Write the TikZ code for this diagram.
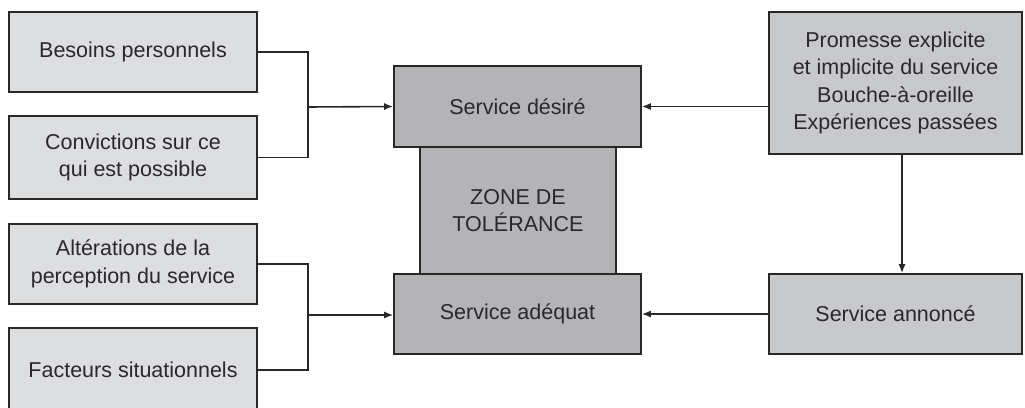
\documentclass[tikz,border=0pt]{standalone}
\usepackage{fontspec}
\setmainfont{Liberation Sans}
\usetikzlibrary{arrows.meta}
\definecolor{lightbox}{RGB}{221,222,223}
\definecolor{midbox}{RGB}{200,201,203}
\definecolor{darkbox}{RGB}{180,180,182}
\definecolor{ink}{RGB}{40,40,40}
\definecolor{txt}{RGB}{40,40,45}
\begin{document}
\begin{tikzpicture}[x=1pt,y=-1pt,
  box/.style={draw=ink, line width=1.6pt, inner sep=0pt, align=center,
    text=txt, font=\fontsize{21.5}{27.5}\selectfont},
  leftbox/.style={box, fill=lightbox, minimum width=248pt},
  centerbox/.style={box, fill=darkbox},
  rightbox/.style={box, fill=midbox, minimum width=253pt},
  link/.style={draw=ink, line width=1.6pt},
  arrow/.style={link, -{Latex[length=9pt,width=7pt]}}]
\useasboundingbox (0,0) rectangle (1025,407);

% left column
\node[leftbox, minimum height=80pt] (b1) at (133,52) {Besoins personnels};
\node[leftbox, minimum height=83pt] (b2) at (133,157.5) {Convictions sur ce\\qui est possible};
\node[leftbox, minimum height=80pt] (b3) at (133,264) {Altérations de la\\perception du service};
\node[leftbox, minimum height=84pt] (b4) at (133,370) {Facteurs situationnels};

% central column
\node[centerbox, minimum width=196pt, minimum height=127pt] (zone) at (518,210.5) {ZONE DE\\TOLÉRANCE};
\node[centerbox, minimum width=247pt, minimum height=81pt] (desire) at (517.5,106.5) {Service désiré};
\node[centerbox, minimum width=247pt, minimum height=80pt] (adequat) at (517.5,314) {Service adéquat};

% right column
\node[rightbox, minimum height=142pt] (prom) at (895.5,83) {Promesse explicite\\et implicite du service\\Bouche-à-oreille\\Expériences passées};
\node[rightbox, minimum height=80pt] (ann) at (895.5,314) {Service annoncé};

% junction points
\coordinate (j1) at (308,107);
\coordinate (j2) at (308,315);

% connectors
\draw[link] (b1.east) -| (j1) |- (b2.east);
\draw[arrow] (j1) -- (desire.west);
\draw[link] (b3.east) -| (j2) |- (b4.east);
\draw[arrow] (j2) -- (j2 -| adequat.west);
\draw[arrow] (prom.west |- desire) -- (desire.east);
\draw[arrow] ([xshift=6.5pt]prom.south) -- ([xshift=6.5pt]ann.north);
\draw[arrow] (ann.west) -- (adequat.east);
\end{tikzpicture}
\end{document}
